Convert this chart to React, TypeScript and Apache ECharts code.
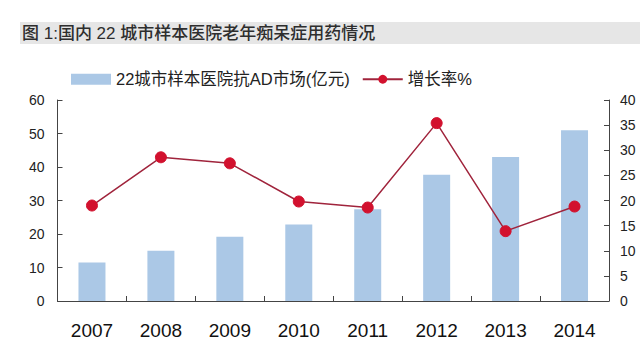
import React, { useEffect, useRef } from "react";
import * as echarts from "echarts";

const years = ["2007", "2008", "2009", "2010", "2011", "2012", "2013", "2014"];
const marketValues = [11.5, 15, 19.2, 22.8, 27.4, 37.7, 43, 51];
const growthRates = [19.0, 28.6, 27.4, 19.8, 18.6, 35.4, 13.9, 18.8];
const leftTicks = { min: 0, max: 60, interval: 10 };
const rightTicks = { min: 0, max: 40, interval: 5 };
const barName = "22城市样本医院抗AD市场(亿元)";
const lineName = "增长率%";
const titleText = "图 1:国内 22 城市样本医院老年痴呆症用药情况";

const FONT = "'Liberation Sans', Arial, 'Noto Sans CJK SC', sans-serif";

export default function App() {
  const ref = useRef<HTMLDivElement>(null);
  useEffect(() => {
    if (!ref.current) return;
    const chart = echarts.init(ref.current, undefined, { renderer: "svg" });
    chart.setOption({
      animation: false,
      backgroundColor: "#ffffff",
      textStyle: { fontFamily: FONT },
      graphic: [
        {
          type: "rect",
          shape: { x: 20, y: 22, width: 620, height: 22 },
          style: { fill: "#e6e6e6" },
          silent: true,
        },
        {
          type: "text",
          x: 22,
          y: 33,
          style: {
            text: titleText,
            font: `500 17px ${FONT}`,
            fill: "#2e2e2e",
            verticalAlign: "middle",
          },
        },
      ],
      legend: {
        left: 66,
        top: 66,
        itemWidth: 40,
        itemHeight: 11,
        itemGap: 12,
        textStyle: { fontSize: 16.5, color: "#222222", fontFamily: FONT },
        data: [
          { name: barName, icon: "rect" },
          { name: lineName },
        ],
      },
      grid: { left: 57.5, right: 31, top: 100, bottom: 53, containLabel: false },
      xAxis: {
        type: "category",
        data: years,
        axisLine: { lineStyle: { color: "#444444", width: 1 } },
        axisTick: { show: true, inside: true, length: 5, lineStyle: { color: "#444444" } },
        axisLabel: { fontSize: 19, color: "#111111", margin: 20, fontFamily: FONT },
        splitLine: { show: false },
      },
      yAxis: [
        {
          type: "value",
          min: leftTicks.min,
          max: leftTicks.max,
          interval: leftTicks.interval,
          axisLine: { show: true, lineStyle: { color: "#444444" } },
          axisTick: { show: true, inside: true, length: 5, lineStyle: { color: "#444444" } },
          axisLabel: { fontSize: 14, color: "#222222", margin: 13, fontFamily: FONT },
          splitLine: { show: false },
        },
        {
          type: "value",
          min: rightTicks.min,
          max: rightTicks.max,
          interval: rightTicks.interval,
          position: "right",
          axisLine: { show: true, lineStyle: { color: "#444444" } },
          axisTick: { show: true, inside: true, length: 5, lineStyle: { color: "#444444" } },
          axisLabel: { fontSize: 14, color: "#222222", margin: 11, fontFamily: FONT },
          splitLine: { show: false },
        },
      ],
      series: [
        {
          name: barName,
          type: "bar",
          data: marketValues,
          barWidth: 27,
          itemStyle: { color: "#abc8e6" },
          yAxisIndex: 0,
        },
        {
          name: lineName,
          type: "line",
          data: growthRates,
          yAxisIndex: 1,
          symbol: "circle",
          symbolSize: 11,
          lineStyle: { color: "#a0243c", width: 1.5 },
          itemStyle: { color: "#d2112e", borderColor: "#d2112e" },
        },
      ],
    });
    return () => chart.dispose();
  }, []);
  return (
    <div
      ref={ref}
      style={{ position: "fixed", left: 0, top: 0, width: 640, height: 354 }}
    />
  );
}
